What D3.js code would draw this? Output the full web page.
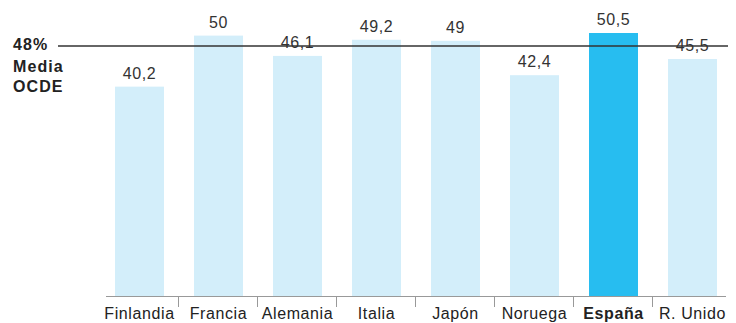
<!DOCTYPE html>
<html>
<head>
<meta charset="utf-8">
<script src="https://cdn.jsdelivr.net/npm/d3@7"></script>
<style>
  body { margin: 0; background: #fff; }
  svg { display: block; font-family: "Liberation Sans", Arial, sans-serif; }
</style>
</head>
<body>
<svg width="736" height="323"></svg>
<script>
// datos
const paises = ["Finlandia", "Francia", "Alemania", "Italia", "Japón", "Noruega", "España", "R. Unido"];
const valores = [40.2, 50, 46.1, 49.2, 49, 42.4, 50.5, 45.5];
const etiquetas = ["40,2", "50", "46,1", "49,2", "49", "42,4", "50,5", "45,5"];
const mediaOCDE = 48;
const destacado = "España";

const baseY = 296;

const svg = d3.select("svg");

const x = d3.scaleBand()
    .domain(paises)
    .range([100, 732])
    .padding(0);

const y = d3.scaleLinear()
    .domain([0, 50.5])
    .range([baseY, 33]);

const barW = x.bandwidth() * 0.62;
const barOff = (x.bandwidth() - barW) / 2;

// barras
svg.selectAll("rect.bar")
    .data(paises)
    .enter()
    .append("rect")
    .attr("class", "bar")
    .attr("x", d => x(d) + barOff)
    .attr("y", (d, i) => y(valores[i]))
    .attr("width", barW)
    .attr("height", (d, i) => baseY - y(valores[i]))
    .style("fill", d => d == destacado ? "#27bdf0" : "#d3eefa");

// etiquetas de valor
svg.selectAll("text.val")
    .data(paises)
    .enter()
    .append("text")
    .attr("class", "val")
    .attr("x", d => x(d) + x.bandwidth() / 2)
    .attr("y", (d, i) => y(valores[i]) - 8)
    .attr("text-anchor", "middle")
    .style("font-size", "16px")
    .style("letter-spacing", "0.6px")
    .style("fill", "#333")
    .text((d, i) => etiquetas[i]);

// eje x
svg.append("line")
    .attr("x1", 106).attr("x2", 726)
    .attr("y1", baseY + 0.5).attr("y2", baseY + 0.5)
    .style("stroke", "#999")
    .style("stroke-width", 1);

svg.selectAll("line.tick")
    .data(paises.slice(1))
    .enter()
    .append("line")
    .attr("class", "tick")
    .attr("x1", d => Math.round(x(d)) - 0.5)
    .attr("x2", d => Math.round(x(d)) - 0.5)
    .attr("y1", baseY + 1)
    .attr("y2", baseY + 11)
    .style("stroke", "#999")
    .style("stroke-width", 1);

svg.selectAll("text.cat")
    .data(paises)
    .enter()
    .append("text")
    .attr("class", "cat")
    .attr("x", d => x(d) + x.bandwidth() / 2)
    .attr("y", 319)
    .attr("text-anchor", "middle")
    .style("font-size", "16px")
    .style("letter-spacing", "0.6px")
    .style("font-weight", d => d == destacado ? "bold" : "normal")
    .style("fill", "#222")
    .text(d => d);

// linea media OCDE
const yMedia = y(mediaOCDE);
svg.append("line")
    .attr("x1", 58).attr("x2", 728)
    .attr("y1", yMedia).attr("y2", yMedia)
    .style("stroke", "#333")
    .style("stroke-width", 1.5);

const leyenda = svg.append("text")
    .attr("x", 13)
    .attr("y", yMedia + 4)
    .style("font-size", "16px")
    .style("font-weight", "bold")
    .style("letter-spacing", "1.1px")
    .style("fill", "#222");
leyenda.append("tspan").attr("x", 13).text(mediaOCDE + "%");
leyenda.append("tspan").attr("x", 13).attr("dy", 22).text("Media");
leyenda.append("tspan").attr("x", 13).attr("dy", 20).text("OCDE");
</script>
</body>
</html>
